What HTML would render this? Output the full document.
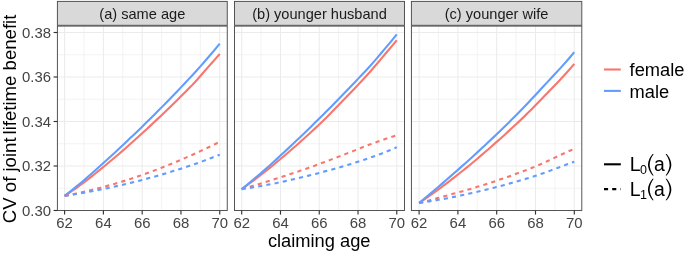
<!DOCTYPE html>
<html><head><meta charset="utf-8"><style>
html,body{margin:0;padding:0;background:#fff;}
body{width:685px;height:253px;overflow:hidden;}
svg{display:block;will-change:transform;}
text{font-family:"Liberation Sans",sans-serif;}
</style></head><body>
<svg width="685" height="253" viewBox="0 0 685 253">
<rect width="685" height="253" fill="#fff"/>
<rect x="57.4" y="25.3" width="169.85" height="185.2" fill="#fff"/>
<line x1="83.99" x2="83.99" y1="25.3" y2="210.5" stroke="#ebebeb" stroke-width="0.6"/>
<line x1="122.78" x2="122.78" y1="25.3" y2="210.5" stroke="#ebebeb" stroke-width="0.6"/>
<line x1="161.57" x2="161.57" y1="25.3" y2="210.5" stroke="#ebebeb" stroke-width="0.6"/>
<line x1="200.36" x2="200.36" y1="25.3" y2="210.5" stroke="#ebebeb" stroke-width="0.6"/>
<line x1="57.4" x2="227.25" y1="188.25" y2="188.25" stroke="#ebebeb" stroke-width="0.6"/>
<line x1="57.4" x2="227.25" y1="143.75" y2="143.75" stroke="#ebebeb" stroke-width="0.6"/>
<line x1="57.4" x2="227.25" y1="99.25" y2="99.25" stroke="#ebebeb" stroke-width="0.6"/>
<line x1="57.4" x2="227.25" y1="54.75" y2="54.75" stroke="#ebebeb" stroke-width="0.6"/>
<line x1="64.60" x2="64.60" y1="25.3" y2="210.5" stroke="#ebebeb" stroke-width="1.0"/>
<line x1="103.39" x2="103.39" y1="25.3" y2="210.5" stroke="#ebebeb" stroke-width="1.0"/>
<line x1="142.18" x2="142.18" y1="25.3" y2="210.5" stroke="#ebebeb" stroke-width="1.0"/>
<line x1="180.96" x2="180.96" y1="25.3" y2="210.5" stroke="#ebebeb" stroke-width="1.0"/>
<line x1="219.75" x2="219.75" y1="25.3" y2="210.5" stroke="#ebebeb" stroke-width="1.0"/>
<line x1="57.4" x2="227.25" y1="210.50" y2="210.50" stroke="#ebebeb" stroke-width="1.0"/>
<line x1="57.4" x2="227.25" y1="166.00" y2="166.00" stroke="#ebebeb" stroke-width="1.0"/>
<line x1="57.4" x2="227.25" y1="121.50" y2="121.50" stroke="#ebebeb" stroke-width="1.0"/>
<line x1="57.4" x2="227.25" y1="77.00" y2="77.00" stroke="#ebebeb" stroke-width="1.0"/>
<line x1="57.4" x2="227.25" y1="32.50" y2="32.50" stroke="#ebebeb" stroke-width="1.0"/>
<g fill="none" stroke-width="2.1">
<path d="M64.60,195.90 L68.48,193.34 L72.36,190.73 L76.24,188.05 L80.11,185.27 L83.99,182.36 L87.87,179.36 L91.75,176.33 L95.63,173.26 L99.51,170.15 L103.39,166.99 L107.27,163.80 L111.15,160.56 L115.02,157.28 L118.90,153.96 L122.78,150.60 L126.66,147.19 L130.54,143.76 L134.42,140.30 L138.30,136.80 L142.18,133.28 L146.05,129.72 L149.93,126.14 L153.81,122.52 L157.69,118.87 L161.57,115.20 L165.45,111.49 L169.33,107.75 L173.20,103.99 L177.08,100.19 L180.96,96.36 L184.84,92.50 L188.72,88.61 L192.60,84.65 L196.48,80.44 L200.36,76.04 L204.24,71.55 L208.11,67.08 L211.99,62.70 L215.87,58.35 L219.75,54.01" stroke="#F8766D"/>
<path d="M64.60,195.90 L68.48,192.87 L72.36,189.80 L76.24,186.67 L80.11,183.47 L83.99,180.18 L87.87,176.81 L91.75,173.42 L95.63,169.99 L99.51,166.54 L103.39,163.06 L107.27,159.54 L111.15,156.00 L115.02,152.43 L118.90,148.82 L122.78,145.19 L126.66,141.53 L130.54,137.85 L134.42,134.14 L138.30,130.40 L142.18,126.64 L146.05,122.85 L149.93,119.03 L153.81,115.18 L157.69,111.29 L161.57,107.38 L165.45,103.43 L169.33,99.46 L173.20,95.46 L177.08,91.43 L180.96,87.36 L184.84,83.26 L188.72,79.13 L192.60,74.95 L196.48,70.69 L200.36,66.35 L204.24,61.94 L208.11,57.48 L211.99,52.96 L215.87,48.30 L219.75,43.55" stroke="#619CFF"/>
<path d="M64.60,195.90 L68.48,195.13 L72.36,194.34 L76.24,193.51 L80.11,192.65 L83.99,191.77 L87.87,190.86 L91.75,189.92 L95.63,188.95 L99.51,187.95 L103.39,186.93 L107.27,185.87 L111.15,184.79 L115.02,183.68 L118.90,182.54 L122.78,181.38 L126.66,180.18 L130.54,178.93 L134.42,177.66 L138.30,176.34 L142.18,174.99 L146.05,173.60 L149.93,172.18 L153.81,170.73 L157.69,169.25 L161.57,167.74 L165.45,166.19 L169.33,164.63 L173.20,163.03 L177.08,161.41 L180.96,159.77 L184.84,158.10 L188.72,156.40 L192.60,154.67 L196.48,152.92 L200.36,151.13 L204.24,149.32 L208.11,147.48 L211.99,145.61 L215.87,143.71 L219.75,141.78" stroke="#F8766D" stroke-dasharray="4.17,4.17"/>
<path d="M64.60,195.90 L68.48,195.31 L72.36,194.69 L76.24,194.06 L80.11,193.40 L83.99,192.72 L87.87,192.02 L91.75,191.29 L95.63,190.55 L99.51,189.78 L103.39,189.00 L107.27,188.19 L111.15,187.36 L115.02,186.51 L118.90,185.63 L122.78,184.74 L126.66,183.82 L130.54,182.88 L134.42,181.92 L138.30,180.94 L142.18,179.93 L146.05,178.91 L149.93,177.86 L153.81,176.78 L157.69,175.69 L161.57,174.57 L165.45,173.43 L169.33,172.27 L173.20,171.09 L177.08,169.88 L180.96,168.66 L184.84,167.40 L188.72,166.11 L192.60,164.78 L196.48,163.43 L200.36,162.04 L204.24,160.63 L208.11,159.19 L211.99,157.72 L215.87,156.23 L219.75,154.72" stroke="#619CFF" stroke-dasharray="4.17,4.17"/>
</g>
<rect x="57.4" y="26.1" width="169.85" height="184.4" fill="none" stroke="#4c4c4c" stroke-width="0.95"/>
<rect x="57.4" y="1.4" width="169.85" height="23.900000000000002" fill="#d9d9d9" stroke="#4c4c4c" stroke-width="0.95"/>
<text x="142.32" y="18.6" font-size="14.6" text-anchor="middle" fill="#1a1a1a">(a) same age</text>
<line x1="64.60" x2="64.60" y1="210.5" y2="214.6" stroke="#333" stroke-width="1.15"/>
<text transform="translate(64.60,227.7) scale(0.975,1)" font-size="15.3" text-anchor="middle" fill="#444">62</text>
<line x1="103.39" x2="103.39" y1="210.5" y2="214.6" stroke="#333" stroke-width="1.15"/>
<text transform="translate(103.39,227.7) scale(0.975,1)" font-size="15.3" text-anchor="middle" fill="#444">64</text>
<line x1="142.18" x2="142.18" y1="210.5" y2="214.6" stroke="#333" stroke-width="1.15"/>
<text transform="translate(142.18,227.7) scale(0.975,1)" font-size="15.3" text-anchor="middle" fill="#444">66</text>
<line x1="180.96" x2="180.96" y1="210.5" y2="214.6" stroke="#333" stroke-width="1.15"/>
<text transform="translate(180.96,227.7) scale(0.975,1)" font-size="15.3" text-anchor="middle" fill="#444">68</text>
<line x1="219.75" x2="219.75" y1="210.5" y2="214.6" stroke="#333" stroke-width="1.15"/>
<text transform="translate(219.75,227.7) scale(0.975,1)" font-size="15.3" text-anchor="middle" fill="#444">70</text>
<rect x="234.5" y="25.3" width="170.0" height="185.2" fill="#fff"/>
<line x1="261.09" x2="261.09" y1="25.3" y2="210.5" stroke="#ebebeb" stroke-width="0.6"/>
<line x1="299.86" x2="299.86" y1="25.3" y2="210.5" stroke="#ebebeb" stroke-width="0.6"/>
<line x1="338.64" x2="338.64" y1="25.3" y2="210.5" stroke="#ebebeb" stroke-width="0.6"/>
<line x1="377.41" x2="377.41" y1="25.3" y2="210.5" stroke="#ebebeb" stroke-width="0.6"/>
<line x1="234.5" x2="404.5" y1="188.25" y2="188.25" stroke="#ebebeb" stroke-width="0.6"/>
<line x1="234.5" x2="404.5" y1="143.75" y2="143.75" stroke="#ebebeb" stroke-width="0.6"/>
<line x1="234.5" x2="404.5" y1="99.25" y2="99.25" stroke="#ebebeb" stroke-width="0.6"/>
<line x1="234.5" x2="404.5" y1="54.75" y2="54.75" stroke="#ebebeb" stroke-width="0.6"/>
<line x1="241.70" x2="241.70" y1="25.3" y2="210.5" stroke="#ebebeb" stroke-width="1.0"/>
<line x1="280.48" x2="280.48" y1="25.3" y2="210.5" stroke="#ebebeb" stroke-width="1.0"/>
<line x1="319.25" x2="319.25" y1="25.3" y2="210.5" stroke="#ebebeb" stroke-width="1.0"/>
<line x1="358.02" x2="358.02" y1="25.3" y2="210.5" stroke="#ebebeb" stroke-width="1.0"/>
<line x1="396.80" x2="396.80" y1="25.3" y2="210.5" stroke="#ebebeb" stroke-width="1.0"/>
<line x1="234.5" x2="404.5" y1="210.50" y2="210.50" stroke="#ebebeb" stroke-width="1.0"/>
<line x1="234.5" x2="404.5" y1="166.00" y2="166.00" stroke="#ebebeb" stroke-width="1.0"/>
<line x1="234.5" x2="404.5" y1="121.50" y2="121.50" stroke="#ebebeb" stroke-width="1.0"/>
<line x1="234.5" x2="404.5" y1="77.00" y2="77.00" stroke="#ebebeb" stroke-width="1.0"/>
<line x1="234.5" x2="404.5" y1="32.50" y2="32.50" stroke="#ebebeb" stroke-width="1.0"/>
<g fill="none" stroke-width="2.1">
<path d="M241.70,189.11 L245.58,186.33 L249.45,183.51 L253.33,180.64 L257.21,177.71 L261.09,174.74 L264.97,171.71 L268.84,168.62 L272.72,165.48 L276.60,162.28 L280.48,159.05 L284.35,155.77 L288.23,152.45 L292.11,149.08 L295.98,145.68 L299.86,142.24 L303.74,138.76 L307.62,135.25 L311.49,131.70 L315.37,128.11 L319.25,124.47 L323.13,120.78 L327.01,116.96 L330.88,113.01 L334.76,109.01 L338.64,105.00 L342.52,101.02 L346.39,97.03 L350.27,93.01 L354.15,88.97 L358.02,84.88 L361.90,80.74 L365.78,76.55 L369.66,72.26 L373.53,67.80 L377.41,63.22 L381.29,58.61 L385.17,54.04 L389.04,49.47 L392.92,44.88 L396.80,40.27" stroke="#F8766D"/>
<path d="M241.70,189.11 L245.58,185.96 L249.45,182.78 L253.33,179.56 L257.21,176.30 L261.09,172.98 L264.97,169.61 L268.84,166.17 L272.72,162.68 L276.60,159.15 L280.48,155.59 L284.35,152.00 L288.23,148.39 L292.11,144.75 L295.98,141.08 L299.86,137.39 L303.74,133.68 L307.62,129.93 L311.49,126.16 L315.37,122.37 L319.25,118.54 L323.13,114.69 L327.01,110.82 L330.88,106.92 L334.76,102.99 L338.64,99.04 L342.52,95.06 L346.39,91.06 L350.27,87.04 L354.15,82.98 L358.02,78.90 L361.90,74.80 L365.78,70.66 L369.66,66.47 L373.53,62.09 L377.41,57.57 L381.29,52.99 L385.17,48.42 L389.04,43.80 L392.92,39.12 L396.80,34.40" stroke="#619CFF"/>
<path d="M241.70,189.11 L245.58,188.00 L249.45,186.87 L253.33,185.73 L257.21,184.58 L261.09,183.41 L264.97,182.22 L268.84,181.02 L272.72,179.81 L276.60,178.57 L280.48,177.32 L284.35,176.06 L288.23,174.78 L292.11,173.49 L295.98,172.19 L299.86,170.87 L303.74,169.54 L307.62,168.19 L311.49,166.80 L315.37,165.40 L319.25,163.98 L323.13,162.53 L327.01,161.08 L330.88,159.61 L334.76,158.12 L338.64,156.63 L342.52,155.14 L346.39,153.63 L350.27,152.13 L354.15,150.62 L358.02,149.12 L361.90,147.59 L365.78,146.06 L369.66,144.59 L373.53,143.17 L377.41,141.78 L381.29,140.40 L385.17,139.06 L389.04,137.75 L392.92,136.47 L396.80,135.23" stroke="#F8766D" stroke-dasharray="4.17,4.17"/>
<path d="M241.70,189.11 L245.58,188.54 L249.45,187.95 L253.33,187.33 L257.21,186.69 L261.09,186.01 L264.97,185.31 L268.84,184.58 L272.72,183.82 L276.60,183.03 L280.48,182.21 L284.35,181.35 L288.23,180.48 L292.11,179.59 L295.98,178.68 L299.86,177.76 L303.74,176.83 L307.62,175.88 L311.49,174.92 L315.37,173.93 L319.25,172.93 L323.13,171.90 L327.01,170.86 L330.88,169.79 L334.76,168.70 L338.64,167.60 L342.52,166.47 L346.39,165.32 L350.27,164.15 L354.15,162.95 L358.02,161.74 L361.90,160.49 L365.78,159.20 L369.66,157.87 L373.53,156.50 L377.41,155.11 L381.29,153.68 L385.17,152.17 L389.04,150.59 L392.92,148.95 L396.80,147.27" stroke="#619CFF" stroke-dasharray="4.17,4.17"/>
</g>
<rect x="234.5" y="26.1" width="170.0" height="184.4" fill="none" stroke="#4c4c4c" stroke-width="0.95"/>
<rect x="234.5" y="1.4" width="170.0" height="23.900000000000002" fill="#d9d9d9" stroke="#4c4c4c" stroke-width="0.95"/>
<text x="319.50" y="18.6" font-size="14.6" text-anchor="middle" fill="#1a1a1a">(b) younger husband</text>
<line x1="241.70" x2="241.70" y1="210.5" y2="214.6" stroke="#333" stroke-width="1.15"/>
<text transform="translate(241.70,227.7) scale(0.975,1)" font-size="15.3" text-anchor="middle" fill="#444">62</text>
<line x1="280.48" x2="280.48" y1="210.5" y2="214.6" stroke="#333" stroke-width="1.15"/>
<text transform="translate(280.48,227.7) scale(0.975,1)" font-size="15.3" text-anchor="middle" fill="#444">64</text>
<line x1="319.25" x2="319.25" y1="210.5" y2="214.6" stroke="#333" stroke-width="1.15"/>
<text transform="translate(319.25,227.7) scale(0.975,1)" font-size="15.3" text-anchor="middle" fill="#444">66</text>
<line x1="358.02" x2="358.02" y1="210.5" y2="214.6" stroke="#333" stroke-width="1.15"/>
<text transform="translate(358.02,227.7) scale(0.975,1)" font-size="15.3" text-anchor="middle" fill="#444">68</text>
<line x1="396.80" x2="396.80" y1="210.5" y2="214.6" stroke="#333" stroke-width="1.15"/>
<text transform="translate(396.80,227.7) scale(0.975,1)" font-size="15.3" text-anchor="middle" fill="#444">70</text>
<rect x="411.4" y="25.3" width="170.39999999999998" height="185.2" fill="#fff"/>
<line x1="438.50" x2="438.50" y1="25.3" y2="210.5" stroke="#ebebeb" stroke-width="0.6"/>
<line x1="477.30" x2="477.30" y1="25.3" y2="210.5" stroke="#ebebeb" stroke-width="0.6"/>
<line x1="516.10" x2="516.10" y1="25.3" y2="210.5" stroke="#ebebeb" stroke-width="0.6"/>
<line x1="554.90" x2="554.90" y1="25.3" y2="210.5" stroke="#ebebeb" stroke-width="0.6"/>
<line x1="411.4" x2="581.8" y1="188.25" y2="188.25" stroke="#ebebeb" stroke-width="0.6"/>
<line x1="411.4" x2="581.8" y1="143.75" y2="143.75" stroke="#ebebeb" stroke-width="0.6"/>
<line x1="411.4" x2="581.8" y1="99.25" y2="99.25" stroke="#ebebeb" stroke-width="0.6"/>
<line x1="411.4" x2="581.8" y1="54.75" y2="54.75" stroke="#ebebeb" stroke-width="0.6"/>
<line x1="419.10" x2="419.10" y1="25.3" y2="210.5" stroke="#ebebeb" stroke-width="1.0"/>
<line x1="457.90" x2="457.90" y1="25.3" y2="210.5" stroke="#ebebeb" stroke-width="1.0"/>
<line x1="496.70" x2="496.70" y1="25.3" y2="210.5" stroke="#ebebeb" stroke-width="1.0"/>
<line x1="535.50" x2="535.50" y1="25.3" y2="210.5" stroke="#ebebeb" stroke-width="1.0"/>
<line x1="574.30" x2="574.30" y1="25.3" y2="210.5" stroke="#ebebeb" stroke-width="1.0"/>
<line x1="411.4" x2="581.8" y1="210.50" y2="210.50" stroke="#ebebeb" stroke-width="1.0"/>
<line x1="411.4" x2="581.8" y1="166.00" y2="166.00" stroke="#ebebeb" stroke-width="1.0"/>
<line x1="411.4" x2="581.8" y1="121.50" y2="121.50" stroke="#ebebeb" stroke-width="1.0"/>
<line x1="411.4" x2="581.8" y1="77.00" y2="77.00" stroke="#ebebeb" stroke-width="1.0"/>
<line x1="411.4" x2="581.8" y1="32.50" y2="32.50" stroke="#ebebeb" stroke-width="1.0"/>
<g fill="none" stroke-width="2.1">
<path d="M419.10,202.99 L422.98,200.34 L426.86,197.65 L430.74,194.92 L434.62,192.15 L438.50,189.32 L442.38,186.46 L446.26,183.54 L450.14,180.57 L454.02,177.57 L457.90,174.54 L461.78,171.46 L465.66,168.35 L469.54,165.19 L473.42,161.98 L477.30,158.72 L481.18,155.41 L485.06,152.07 L488.94,148.70 L492.82,145.30 L496.70,141.87 L500.58,138.41 L504.46,134.92 L508.34,131.40 L512.22,127.85 L516.10,124.27 L519.98,120.62 L523.86,116.87 L527.74,113.03 L531.62,109.14 L535.50,105.19 L539.38,101.22 L543.26,97.23 L547.14,93.25 L551.02,89.25 L554.90,85.23 L558.78,81.16 L562.66,77.03 L566.54,72.80 L570.42,68.40 L574.30,63.90" stroke="#F8766D"/>
<path d="M419.10,202.99 L422.98,199.78 L426.86,196.54 L430.74,193.28 L434.62,190.00 L438.50,186.70 L442.38,183.37 L446.26,180.02 L450.14,176.65 L454.02,173.26 L457.90,169.85 L461.78,166.41 L465.66,162.96 L469.54,159.47 L473.42,155.95 L477.30,152.39 L481.18,148.80 L485.06,145.18 L488.94,141.54 L492.82,137.88 L496.70,134.18 L500.58,130.46 L504.46,126.71 L508.34,122.92 L512.22,119.11 L516.10,115.26 L519.98,111.33 L523.86,107.32 L527.74,103.23 L531.62,99.08 L535.50,94.91 L539.38,90.72 L543.26,86.54 L547.14,82.38 L551.02,78.23 L554.90,74.07 L558.78,69.88 L562.66,65.63 L566.54,61.29 L570.42,56.73 L574.30,52.06" stroke="#619CFF"/>
<path d="M419.10,202.99 L422.98,202.00 L426.86,200.98 L430.74,199.96 L434.62,198.91 L438.50,197.86 L442.38,196.81 L446.26,195.74 L450.14,194.68 L454.02,193.61 L457.90,192.52 L461.78,191.43 L465.66,190.32 L469.54,189.18 L473.42,188.03 L477.30,186.86 L481.18,185.67 L485.06,184.46 L488.94,183.22 L492.82,181.95 L496.70,180.66 L500.58,179.34 L504.46,178.00 L508.34,176.64 L512.22,175.26 L516.10,173.85 L519.98,172.42 L523.86,170.96 L527.74,169.47 L531.62,167.96 L535.50,166.42 L539.38,164.80 L543.26,163.08 L547.14,161.29 L551.02,159.45 L554.90,157.60 L558.78,155.76 L562.66,153.96 L566.54,152.22 L570.42,150.47 L574.30,148.70" stroke="#F8766D" stroke-dasharray="4.17,4.17"/>
<path d="M419.10,202.99 L422.98,202.40 L426.86,201.80 L430.74,201.16 L434.62,200.51 L438.50,199.84 L442.38,199.14 L446.26,198.41 L450.14,197.67 L454.02,196.90 L457.90,196.11 L461.78,195.29 L465.66,194.45 L469.54,193.59 L473.42,192.71 L477.30,191.81 L481.18,190.88 L485.06,189.94 L488.94,188.98 L492.82,187.99 L496.70,186.99 L500.58,185.96 L504.46,184.92 L508.34,183.86 L512.22,182.77 L516.10,181.67 L519.98,180.55 L523.86,179.40 L527.74,178.23 L531.62,177.04 L535.50,175.82 L539.38,174.55 L543.26,173.20 L547.14,171.80 L551.02,170.36 L554.90,168.90 L558.78,167.44 L562.66,165.99 L566.54,164.57 L570.42,163.14 L574.30,161.71" stroke="#619CFF" stroke-dasharray="4.17,4.17"/>
</g>
<rect x="411.4" y="26.1" width="170.39999999999998" height="184.4" fill="none" stroke="#4c4c4c" stroke-width="0.95"/>
<rect x="411.4" y="1.4" width="170.39999999999998" height="23.900000000000002" fill="#d9d9d9" stroke="#4c4c4c" stroke-width="0.95"/>
<text x="496.60" y="18.6" font-size="14.6" text-anchor="middle" fill="#1a1a1a">(c) younger wife</text>
<line x1="419.10" x2="419.10" y1="210.5" y2="214.6" stroke="#333" stroke-width="1.15"/>
<text transform="translate(419.10,227.7) scale(0.975,1)" font-size="15.3" text-anchor="middle" fill="#444">62</text>
<line x1="457.90" x2="457.90" y1="210.5" y2="214.6" stroke="#333" stroke-width="1.15"/>
<text transform="translate(457.90,227.7) scale(0.975,1)" font-size="15.3" text-anchor="middle" fill="#444">64</text>
<line x1="496.70" x2="496.70" y1="210.5" y2="214.6" stroke="#333" stroke-width="1.15"/>
<text transform="translate(496.70,227.7) scale(0.975,1)" font-size="15.3" text-anchor="middle" fill="#444">66</text>
<line x1="535.50" x2="535.50" y1="210.5" y2="214.6" stroke="#333" stroke-width="1.15"/>
<text transform="translate(535.50,227.7) scale(0.975,1)" font-size="15.3" text-anchor="middle" fill="#444">68</text>
<line x1="574.30" x2="574.30" y1="210.5" y2="214.6" stroke="#333" stroke-width="1.15"/>
<text transform="translate(574.30,227.7) scale(0.975,1)" font-size="15.3" text-anchor="middle" fill="#444">70</text>
<line x1="53.6" x2="57.4" y1="210.50" y2="210.50" stroke="#333" stroke-width="1.15"/>
<text transform="translate(51.0,215.85) scale(0.975,1)" font-size="15.3" text-anchor="end" fill="#444">0.30</text>
<line x1="53.6" x2="57.4" y1="166.00" y2="166.00" stroke="#333" stroke-width="1.15"/>
<text transform="translate(51.0,171.35) scale(0.975,1)" font-size="15.3" text-anchor="end" fill="#444">0.32</text>
<line x1="53.6" x2="57.4" y1="121.50" y2="121.50" stroke="#333" stroke-width="1.15"/>
<text transform="translate(51.0,126.85) scale(0.975,1)" font-size="15.3" text-anchor="end" fill="#444">0.34</text>
<line x1="53.6" x2="57.4" y1="77.00" y2="77.00" stroke="#333" stroke-width="1.15"/>
<text transform="translate(51.0,82.35) scale(0.975,1)" font-size="15.3" text-anchor="end" fill="#444">0.36</text>
<line x1="53.6" x2="57.4" y1="32.50" y2="32.50" stroke="#333" stroke-width="1.15"/>
<text transform="translate(51.0,37.85) scale(0.975,1)" font-size="15.3" text-anchor="end" fill="#444">0.38</text>
<text x="319.2" y="247.1" font-size="18.3" text-anchor="middle" fill="#000">claiming age</text>
<text transform="translate(15.8,223.2) rotate(-90)" font-size="18.6" text-anchor="start" fill="#000">CV of joint</text>
<text transform="translate(15.8,14.6) rotate(-90)" font-size="18.6" text-anchor="end" fill="#000">lifetime benefit</text>
<line x1="604" x2="620.8" y1="69.5" y2="69.5" stroke="#F8766D" stroke-width="2.1"/>
<line x1="604" x2="620.8" y1="90.9" y2="90.9" stroke="#619CFF" stroke-width="2.1"/>
<text x="629.6" y="76.4" font-size="18.3" fill="#000">female</text>
<text x="629.6" y="97.7" font-size="18.3" fill="#000">male</text>
<line x1="604" x2="620.8" y1="164.3" y2="164.3" stroke="#000" stroke-width="2.1"/>
<line x1="604" x2="620.8" y1="189.1" y2="189.1" stroke="#000" stroke-width="2.1" stroke-dasharray="4.1,4.1"/>
<text x="629.8" y="170.8" font-size="19.4" fill="#000">L</text>
<text x="639.9" y="173.70000000000002" font-size="12.5" fill="#000">0</text>
<path d="M652.6,153.9 Q643.4,164.65 652.6,175.4 L653.7,175.4 Q645.7,164.65 653.7,153.9 Z" fill="#000"/>
<path d="M666.7,153.9 Q675.9,164.65 666.7,175.4 L665.6,175.4 Q673.6,164.65 665.6,153.9 Z" fill="#000"/>
<text x="653.9" y="170.8" font-size="19.4" fill="#000">a</text>
<text x="629.8" y="195.6" font-size="19.4" fill="#000">L</text>
<text x="639.9" y="198.5" font-size="12.5" fill="#000">1</text>
<path d="M652.6,178.7 Q643.4,189.45 652.6,200.2 L653.7,200.2 Q645.7,189.45 653.7,178.7 Z" fill="#000"/>
<path d="M666.7,178.7 Q675.9,189.45 666.7,200.2 L665.6,200.2 Q673.6,189.45 665.6,178.7 Z" fill="#000"/>
<text x="653.9" y="195.6" font-size="19.4" fill="#000">a</text>
</svg></body></html>
